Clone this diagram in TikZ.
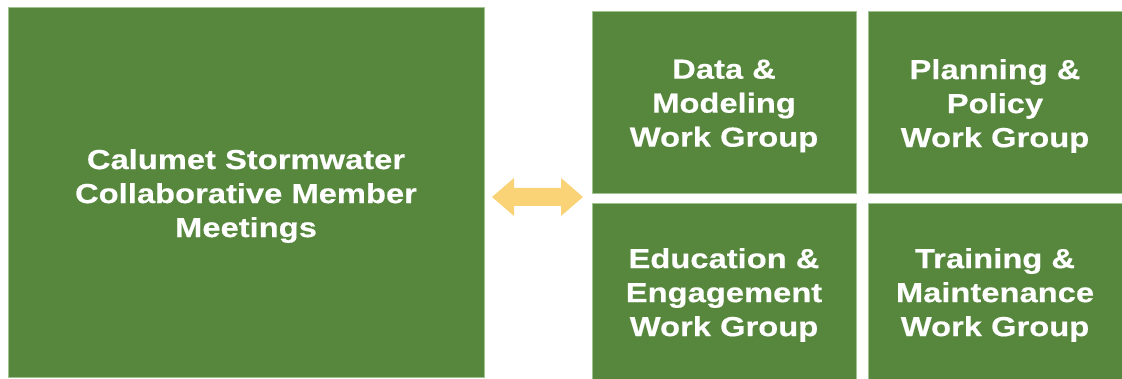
\documentclass[tikz,border=0pt]{standalone}
\usepackage{fontspec}
\setmainfont{Liberation Sans}[FakeStretch=1.19]
\newfontfamily\boxfont{Liberation Sans}[FakeStretch=1.19,BoldFeatures={FakeBold=0.4}]
\definecolor{boxgreen}{RGB}{86,135,61}
\definecolor{edgegreen}{RGB}{160,195,145}
\definecolor{arrowgold}{RGB}{250,211,118}
\begin{document}
\begin{tikzpicture}[x=1pt,y=-1pt,
  gbox/.style={fill=boxgreen, draw=edgegreen, line width=0.6pt, inner sep=0pt},
  gtext/.style={text=white, align=center, inner sep=0pt, yshift=-4pt,
    font=\boxfont\bfseries\fontsize{27.5}{34}\selectfont}]
\useasboundingbox (0,0) rectangle (1122,379);
\node[gbox, minimum width=476pt, minimum height=370pt] (csc) at (246,192) {};
\node[gbox, minimum width=264pt, minimum height=182pt] (dm) at (724,102) {};
\node[gbox, minimum width=254pt, minimum height=182pt] (pp) at (995,102) {};
\node[gbox, minimum width=264pt, minimum height=176pt] (ee) at (724,291) {};
\node[gbox, minimum width=254pt, minimum height=176pt] (tm) at (995,291) {};
\node[gtext] (csct) at (csc.center) {Calumet Stormwater\\Collaborative Member\\Meetings};
\node[gtext] (dmt) at (dm.center) {Data \&\\Modeling\\Work Group};
\node[gtext] (ppt) at (pp.center) {Planning \&\\Policy\\Work Group};
\node[gtext] (eet) at (ee.center) {Education \&\\Engagement\\Work Group};
\node[gtext] (tmt) at (tm.center) {Training \&\\Maintenance\\Work Group};
\fill[arrowgold] (492,197) -- (514,178) -- (514,188) -- (561,188) -- (561,178)
  -- (583,197) -- (561,216) -- (561,206) -- (514,206) -- (514,216) -- cycle;
\end{tikzpicture}
\end{document}
